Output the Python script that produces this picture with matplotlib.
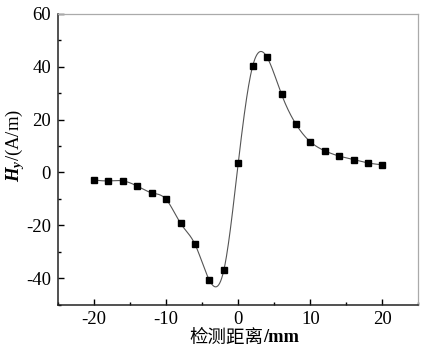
import numpy as np
import matplotlib
matplotlib.use("Agg")
import matplotlib.pyplot as plt
from matplotlib.ticker import MultipleLocator

plt.rcParams['font.family'] = ['Liberation Serif', 'Noto Sans CJK SC', 'DejaVu Sans']
plt.rcParams['axes.unicode_minus'] = False
plt.rcParams['mathtext.fontset'] = 'custom'
plt.rcParams['mathtext.it'] = 'Liberation Serif:italic:bold'
plt.rcParams['mathtext.rm'] = 'Liberation Serif'
plt.rcParams['mathtext.bf'] = 'Liberation Serif:bold'

distance = [-20, -18, -16, -14, -12, -10, -8, -6, -4, -2, 0, 2, 4, 6, 8, 10, 12, 14, 16, 18, 20]
hy = [-2.9, -3.2, -3.2, -5.2, -7.7, -10.2, -19.3, -27.2, -40.8, -37.0, 3.6,
      40.3, 43.6, 29.6, 18.3, 11.6, 8.2, 6.2, 4.9, 3.6, 2.9]
xticks = [-20, -10, 0, 10, 20]
yticks = [-40, -20, 0, 20, 40, 60]


def natural_spline(x, y, n=600):
    x = np.asarray(x, float); y = np.asarray(y, float)
    m = len(x); h = np.diff(x)
    A = np.zeros((m, m)); b = np.zeros(m)
    A[0, 0] = A[-1, -1] = 1
    for i in range(1, m - 1):
        A[i, i - 1] = h[i - 1]; A[i, i] = 2 * (h[i - 1] + h[i]); A[i, i + 1] = h[i]
        b[i] = 3 * ((y[i + 1] - y[i]) / h[i] - (y[i] - y[i - 1]) / h[i - 1])
    c = np.linalg.solve(A, b)
    bb = (y[1:] - y[:-1]) / h - h * (2 * c[:-1] + c[1:]) / 3
    d = (c[1:] - c[:-1]) / (3 * h)
    xs = np.linspace(x[0], x[-1], n)
    idx = np.clip(np.searchsorted(x, xs) - 1, 0, m - 2)
    dx = xs - x[idx]
    ys = y[idx] + bb[idx] * dx + c[idx] * dx ** 2 + d[idx] * dx ** 3
    return xs, ys


fig = plt.figure(figsize=(4.38, 3.57), dpi=100)
ax = fig.add_axes([58 / 438, 1 - 304.5 / 357, (418.5 - 58) / 438, (304.5 - 14) / 357])

xs, ys = natural_spline(distance, hy)
ax.plot(xs, ys, color='#555555', lw=0.8, zorder=2)
ax.plot(distance, hy, ls='none', marker='s', ms=4.8, color='black', zorder=3)

ax.set_xlim(-25, 25)
ax.set_ylim(-50, 60)
ax.set_xticks(xticks)
ax.set_yticks(yticks)
ax.xaxis.set_minor_locator(MultipleLocator(5))
ax.yaxis.set_minor_locator(MultipleLocator(10))
ax.tick_params(which='both', direction='in', top=False, right=False, labelsize=13.5, width=1)
ax.tick_params(axis='x', pad=5)
ax.tick_params(axis='y', pad=5)
ax.tick_params(which='major', length=4)
ax.tick_params(which='minor', length=2.5)
for s in ['left', 'bottom']:
    ax.spines[s].set_color('#222222'); ax.spines[s].set_linewidth(1.1)
for s in ['top', 'right']:
    ax.spines[s].set_color('#aaaaaa'); ax.spines[s].set_linewidth(0.9)

xl = ax.set_xlabel('检测距离', fontsize=13.3, va='center', ha='right',
                   family=['Noto Sans CJK SC', 'DejaVu Sans'])
ax.xaxis.set_label_coords(0.569, -0.115)
ax.annotate('/mm', xy=(1, 0.5), xycoords=xl, va='center', ha='left',
            fontsize=13.3, fontweight='bold')
ax.set_ylabel(r'$H_{y}$/(A/m)', fontsize=13.5, va='center', ha='center')
ax.yaxis.set_label_coords(-0.119, 0.546)

fig.savefig('out.png', dpi=100)
